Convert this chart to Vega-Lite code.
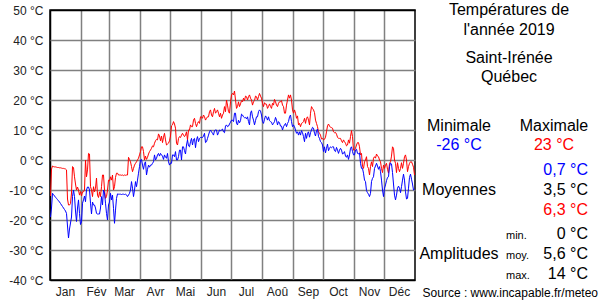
{
"$schema": "https://vega.github.io/schema/vega-lite/v6.json",
"width": 365, "height": 270,
"autosize": "none",
"padding": {"left": 50, "top": 10, "right": 185, "bottom": 20},
"background": "white",
"config": {"font": "Liberation Sans", "view": {"stroke": "#000000", "strokeWidth": 1.5}},
"layer": [
{
"data": {"values": [
{"jour":1,"tmin":-19,"tmax":-12},{"jour":2,"tmin":-16,"tmax":-3},{"jour":3,"tmin":-11.1,"tmax":-2},{"jour":4,"tmin":-11.5,"tmax":-2.2},{"jour":5,"tmin":-12,"tmax":-2.3},{"jour":6,"tmin":-12.4,"tmax":-2.3},{"jour":7,"tmin":-12.8,"tmax":-2.4},{"jour":8,"tmin":-13.2,"tmax":-2.5},{"jour":9,"tmin":-13.6,"tmax":-2.5},{"jour":10,"tmin":-14,"tmax":-2.6},
{"jour":11,"tmin":-14.5,"tmax":-2.6},{"jour":12,"tmin":-15,"tmax":-2.7},{"jour":13,"tmin":-15.5,"tmax":-2.8},{"jour":14,"tmin":-16,"tmax":-2.8},{"jour":15,"tmin":-16.5,"tmax":-2.9},{"jour":16,"tmin":-17,"tmax":-3},{"jour":17,"tmin":-17.8,"tmax":-3.3},{"jour":18,"tmin":-22,"tmax":-13},{"jour":19,"tmin":-26,"tmax":-15},{"jour":20,"tmin":-23,"tmax":-15},
{"jour":21,"tmin":-21,"tmax":-14.5},{"jour":22,"tmin":-19,"tmax":-11},{"jour":23,"tmin":-12.2,"tmax":-2.2},{"jour":24,"tmin":-10,"tmax":-2.5},{"jour":25,"tmin":-12.2,"tmax":-5.6},{"jour":26,"tmin":-17,"tmax":-8},{"jour":27,"tmin":-20.5,"tmax":-10},{"jour":28,"tmin":-16,"tmax":-9},{"jour":29,"tmin":-13.3,"tmax":-10},{"jour":30,"tmin":-17.8,"tmax":-11.7},
{"jour":31,"tmin":-21.5,"tmax":-10.5},{"jour":32,"tmin":-20.6,"tmax":-12},{"jour":33,"tmin":-14.4,"tmax":-10.6},{"jour":34,"tmin":-13.3,"tmax":-10.6},{"jour":35,"tmin":-12,"tmax":-10},{"jour":36,"tmin":-13.9,"tmax":0},{"jour":37,"tmin":-10,"tmax":-5.6},{"jour":38,"tmin":-9,"tmax":-3.3},{"jour":39,"tmin":-9,"tmax":2.2},{"jour":40,"tmin":-10,"tmax":2},
{"jour":41,"tmin":-14.4,"tmax":-8.9},{"jour":42,"tmin":-18,"tmax":-10},{"jour":43,"tmin":-14,"tmax":-12.2},{"jour":44,"tmin":-15,"tmax":-8.9},{"jour":45,"tmin":-15,"tmax":-10.6},{"jour":46,"tmin":-16,"tmax":-9.4},{"jour":47,"tmin":-17.8,"tmax":-6},{"jour":48,"tmin":-18,"tmax":-11.7},{"jour":49,"tmin":-18,"tmax":-12.5},{"jour":50,"tmin":-18,"tmax":-10.6},
{"jour":51,"tmin":-16,"tmax":-12.2},{"jour":52,"tmin":-12.2,"tmax":-8.9},{"jour":53,"tmin":-15,"tmax":-5},{"jour":54,"tmin":-10,"tmax":-5},{"jour":55,"tmin":-11,"tmax":-10},{"jour":56,"tmin":-14.4,"tmax":-12.8},{"jour":57,"tmin":-17.8,"tmax":-12.2},{"jour":58,"tmin":-20,"tmax":-10},{"jour":59,"tmin":-15,"tmax":-6.7},{"jour":60,"tmin":-14,"tmax":-7},
{"jour":61,"tmin":-11.1,"tmax":-5.6},{"jour":62,"tmin":-13.3,"tmax":-6.7},{"jour":63,"tmin":-11.7,"tmax":-5},{"jour":64,"tmin":-16.1,"tmax":-10},{"jour":65,"tmin":-21.1,"tmax":-8.9},{"jour":66,"tmin":-16.7,"tmax":-5.8},{"jour":67,"tmin":-12.8,"tmax":-4.4},{"jour":68,"tmin":-11.3,"tmax":-4.4},{"jour":69,"tmin":-11.4,"tmax":-5},{"jour":70,"tmin":-11.4,"tmax":-5},
{"jour":71,"tmin":-11.4,"tmax":-5},{"jour":72,"tmin":-11.5,"tmax":-5.1},{"jour":73,"tmin":-11.4,"tmax":-5},{"jour":74,"tmin":-11.4,"tmax":-5.2},{"jour":75,"tmin":-11.5,"tmax":-5},{"jour":76,"tmin":-11.4,"tmax":-5.1},{"jour":77,"tmin":-11.6,"tmax":-5},{"jour":78,"tmin":-12.2,"tmax":-5},{"jour":79,"tmin":-11.7,"tmax":0.9},{"jour":80,"tmin":-11.1,"tmax":0.2},
{"jour":81,"tmin":-10,"tmax":-0.6},{"jour":82,"tmin":-7.2,"tmax":-2.2},{"jour":83,"tmin":-9.4,"tmax":-3.9},{"jour":84,"tmin":-12.2,"tmax":-2.8},{"jour":85,"tmin":-10,"tmax":-1.7},{"jour":86,"tmin":-7.2,"tmax":-1.1},{"jour":87,"tmin":-8.9,"tmax":-0.6},{"jour":88,"tmin":-6.7,"tmax":0},{"jour":89,"tmin":-4.4,"tmax":0.6},{"jour":90,"tmin":-2.2,"tmax":1.7},
{"jour":91,"tmin":0,"tmax":2.8},{"jour":92,"tmin":0.2,"tmax":4.4},{"jour":93,"tmin":-1.7,"tmax":4.4},{"jour":94,"tmin":-3.1,"tmax":2.8},{"jour":95,"tmin":-1.1,"tmax":0},{"jour":96,"tmin":-0.6,"tmax":1.3},{"jour":97,"tmin":-5,"tmax":0.2},{"jour":98,"tmin":-3.1,"tmax":0.9},{"jour":99,"tmin":-1.7,"tmax":2},{"jour":100,"tmin":-2.4,"tmax":2.8},
{"jour":101,"tmin":-1.7,"tmax":3.3},{"jour":102,"tmin":-1.7,"tmax":3.9},{"jour":103,"tmin":-1.1,"tmax":4.7},{"jour":104,"tmin":-0.6,"tmax":4.4},{"jour":105,"tmin":1.7,"tmax":5.6},{"jour":106,"tmin":0,"tmax":6.4},{"jour":107,"tmin":0.6,"tmax":6.9},{"jour":108,"tmin":1.7,"tmax":6.7},{"jour":109,"tmin":2.2,"tmax":8.7},{"jour":110,"tmin":1.3,"tmax":8},
{"jour":111,"tmin":2.2,"tmax":6.4},{"jour":112,"tmin":1.7,"tmax":8},{"jour":113,"tmin":1.3,"tmax":5.8},{"jour":114,"tmin":0.2,"tmax":7.6},{"jour":115,"tmin":1.7,"tmax":8.9},{"jour":116,"tmin":0.9,"tmax":6.7},{"jour":117,"tmin":0.6,"tmax":5},{"jour":118,"tmin":2.2,"tmax":5.3},{"jour":119,"tmin":-0.6,"tmax":5.6},{"jour":120,"tmin":-1.7,"tmax":6.4},
{"jour":121,"tmin":-1,"tmax":8},{"jour":122,"tmin":-1.1,"tmax":11.4},{"jour":123,"tmin":1.7,"tmax":11.7},{"jour":124,"tmin":1.7,"tmax":12.8},{"jour":125,"tmin":1.1,"tmax":12},{"jour":126,"tmin":2.8,"tmax":10.6},{"jour":127,"tmin":0,"tmax":5.6},{"jour":128,"tmin":0,"tmax":5},{"jour":129,"tmin":1.1,"tmax":7.2},{"jour":130,"tmin":3.3,"tmax":7.8},
{"jour":131,"tmin":3.3,"tmax":7.5},{"jour":132,"tmin":0,"tmax":8.3},{"jour":133,"tmin":4.4,"tmax":8.9},{"jour":134,"tmin":4.4,"tmax":8.3},{"jour":135,"tmin":3.1,"tmax":7.8},{"jour":136,"tmin":2,"tmax":8.3},{"jour":137,"tmin":5,"tmax":9.4},{"jour":138,"tmin":6.7,"tmax":6.7},{"jour":139,"tmin":4.7,"tmax":10},{"jour":140,"tmin":4.4,"tmax":10},
{"jour":141,"tmin":6.1,"tmax":11.7},{"jour":142,"tmin":7.2,"tmax":11.1},{"jour":143,"tmin":5,"tmax":11.1},{"jour":144,"tmin":6.9,"tmax":13.3},{"jour":145,"tmin":7.2,"tmax":13.9},{"jour":146,"tmin":4.1,"tmax":12.2},{"jour":147,"tmin":6.7,"tmax":11.1},{"jour":148,"tmin":7.8,"tmax":12.2},{"jour":149,"tmin":6.1,"tmax":12.8},{"jour":150,"tmin":7.2,"tmax":12.2},
{"jour":151,"tmin":7.5,"tmax":14.4},{"jour":152,"tmin":7.5,"tmax":14.4},{"jour":153,"tmin":7.5,"tmax":13.9},{"jour":154,"tmin":8,"tmax":15},{"jour":155,"tmin":8.9,"tmax":14.4},{"jour":156,"tmin":5.8,"tmax":13.3},{"jour":157,"tmin":6.1,"tmax":13.9},{"jour":158,"tmin":7.2,"tmax":14.4},{"jour":159,"tmin":8.3,"tmax":14.4},{"jour":160,"tmin":9.4,"tmax":16.1},
{"jour":161,"tmin":10,"tmax":16.7},{"jour":162,"tmin":9.4,"tmax":15},{"jour":163,"tmin":8.9,"tmax":14.4},{"jour":164,"tmin":8.3,"tmax":16.1},{"jour":165,"tmin":9.8,"tmax":17.2},{"jour":166,"tmin":10,"tmax":15.6},{"jour":167,"tmin":10,"tmax":16.1},{"jour":168,"tmin":8.3,"tmax":16.7},{"jour":169,"tmin":9.1,"tmax":15.6},{"jour":170,"tmin":10,"tmax":14.4},
{"jour":171,"tmin":9.8,"tmax":15.6},{"jour":172,"tmin":10,"tmax":13.9},{"jour":173,"tmin":10.3,"tmax":15},{"jour":174,"tmin":9.4,"tmax":15.6},{"jour":175,"tmin":9.1,"tmax":17.8},{"jour":176,"tmin":11.3,"tmax":16.1},{"jour":177,"tmin":11.7,"tmax":20},{"jour":178,"tmin":11.1,"tmax":18.3},{"jour":179,"tmin":11.3,"tmax":16.1},{"jour":180,"tmin":12,"tmax":15.6},
{"jour":181,"tmin":12.6,"tmax":19.4},{"jour":182,"tmin":13.3,"tmax":21.7},{"jour":183,"tmin":13.3,"tmax":22.2},{"jour":184,"tmin":12.8,"tmax":21.7},{"jour":185,"tmin":15.6,"tmax":23},{"jour":186,"tmin":15.6,"tmax":20},{"jour":187,"tmin":12.2,"tmax":17.2},{"jour":188,"tmin":11.7,"tmax":17.8},{"jour":189,"tmin":13.3,"tmax":19.4},{"jour":190,"tmin":12.4,"tmax":17.8},
{"jour":191,"tmin":13.1,"tmax":18.7},{"jour":192,"tmin":15.3,"tmax":19.8},{"jour":193,"tmin":15,"tmax":19.4},{"jour":194,"tmin":14.4,"tmax":20.6},{"jour":195,"tmin":14.1,"tmax":19.8},{"jour":196,"tmin":14.2,"tmax":21.3},{"jour":197,"tmin":13.7,"tmax":21.1},{"jour":198,"tmin":14.4,"tmax":20},{"jour":199,"tmin":12.8,"tmax":21.1},{"jour":200,"tmin":11.7,"tmax":21.7},
{"jour":201,"tmin":15.6,"tmax":20.6},{"jour":202,"tmin":16.4,"tmax":20},{"jour":203,"tmin":14.4,"tmax":18.3},{"jour":204,"tmin":13.3,"tmax":19.4},{"jour":205,"tmin":11.7,"tmax":19.8},{"jour":206,"tmin":13.1,"tmax":21.3},{"jour":207,"tmin":14.4,"tmax":21.1},{"jour":208,"tmin":14.4,"tmax":20},{"jour":209,"tmin":16.1,"tmax":21.1},{"jour":210,"tmin":16.7,"tmax":22.2},
{"jour":211,"tmin":16.3,"tmax":21.3},{"jour":212,"tmin":15,"tmax":20.6},{"jour":213,"tmin":12.8,"tmax":18.9},{"jour":214,"tmin":12.2,"tmax":17.8},{"jour":215,"tmin":13.6,"tmax":19.1},{"jour":216,"tmin":14.7,"tmax":18.6},{"jour":217,"tmin":14.2,"tmax":18.6},{"jour":218,"tmin":13.3,"tmax":17.2},{"jour":219,"tmin":14.4,"tmax":17.8},{"jour":220,"tmin":13.1,"tmax":18.7},
{"jour":221,"tmin":12.8,"tmax":17.8},{"jour":222,"tmin":12.6,"tmax":17.2},{"jour":223,"tmin":11.7,"tmax":18.9},{"jour":224,"tmin":12.2,"tmax":18.3},{"jour":225,"tmin":12.8,"tmax":20.2},{"jour":226,"tmin":14.2,"tmax":19.4},{"jour":227,"tmin":13.3,"tmax":18.3},{"jour":228,"tmin":11.7,"tmax":17.8},{"jour":229,"tmin":12.8,"tmax":18.9},{"jour":230,"tmin":12.4,"tmax":19.4},
{"jour":231,"tmin":11.3,"tmax":19.4},{"jour":232,"tmin":11.3,"tmax":19.8},{"jour":233,"tmin":10,"tmax":18.3},{"jour":234,"tmin":11.1,"tmax":17.8},{"jour":235,"tmin":11.7,"tmax":15.6},{"jour":236,"tmin":12.2,"tmax":15.6},{"jour":237,"tmin":11.1,"tmax":18.3},{"jour":238,"tmin":12.2,"tmax":20},{"jour":239,"tmin":12.8,"tmax":21.7},{"jour":240,"tmin":14.4,"tmax":20.6},
{"jour":241,"tmin":15,"tmax":21.7},{"jour":242,"tmin":12.8,"tmax":20},{"jour":243,"tmin":11.1,"tmax":16.7},{"jour":244,"tmin":11.7,"tmax":15.6},{"jour":245,"tmin":11.1,"tmax":16.7},{"jour":246,"tmin":10,"tmax":15.6},{"jour":247,"tmin":8.9,"tmax":13.9},{"jour":248,"tmin":9.4,"tmax":14.7},{"jour":249,"tmin":8.3,"tmax":11.7},{"jour":250,"tmin":9.4,"tmax":12.2},
{"jour":251,"tmin":8.3,"tmax":11.1},{"jour":252,"tmin":9.8,"tmax":12.2},{"jour":253,"tmin":9.1,"tmax":12.4},{"jour":254,"tmin":7.8,"tmax":12.8},{"jour":255,"tmin":6.1,"tmax":13.9},{"jour":256,"tmin":8.9,"tmax":12.2},{"jour":257,"tmin":7.2,"tmax":13.9},{"jour":258,"tmin":8.9,"tmax":14.4},{"jour":259,"tmin":9.4,"tmax":13.3},{"jour":260,"tmin":7.6,"tmax":11.7},
{"jour":261,"tmin":9.1,"tmax":15.6},{"jour":262,"tmin":10,"tmax":17.8},{"jour":263,"tmin":10.9,"tmax":17.2},{"jour":264,"tmin":10.6,"tmax":16.7},{"jour":265,"tmin":8.9,"tmax":15.8},{"jour":266,"tmin":8,"tmax":13.3},{"jour":267,"tmin":9.8,"tmax":12.2},{"jour":268,"tmin":10.3,"tmax":11.1},{"jour":269,"tmin":7.8,"tmax":9.4},{"jour":270,"tmin":7.2,"tmax":8.9},
{"jour":271,"tmin":6.1,"tmax":8.3},{"jour":272,"tmin":5.8,"tmax":7},{"jour":273,"tmin":5,"tmax":7.2},{"jour":274,"tmin":2.8,"tmax":6.7},{"jour":275,"tmin":4.4,"tmax":6.9},{"jour":276,"tmin":2.4,"tmax":7.6},{"jour":277,"tmin":3.9,"tmax":9.4},{"jour":278,"tmin":5.3,"tmax":11.4},{"jour":279,"tmin":3.1,"tmax":12},{"jour":280,"tmin":3.9,"tmax":11.3},
{"jour":281,"tmin":4.4,"tmax":10.9},{"jour":282,"tmin":4.1,"tmax":10.8},{"jour":283,"tmin":4.4,"tmax":10.6},{"jour":284,"tmin":4.4,"tmax":9.4},{"jour":285,"tmin":3.1,"tmax":9.1},{"jour":286,"tmin":2.8,"tmax":9.2},{"jour":287,"tmin":4.2,"tmax":8.6},{"jour":288,"tmin":3.3,"tmax":7.6},{"jour":289,"tmin":2.2,"tmax":7.2},{"jour":290,"tmin":3.3,"tmax":7.2},
{"jour":291,"tmin":3.9,"tmax":7.2},{"jour":292,"tmin":3.3,"tmax":6.4},{"jour":293,"tmin":2,"tmax":5.8},{"jour":294,"tmin":2.2,"tmax":6.7},{"jour":295,"tmin":2.8,"tmax":6.1},{"jour":296,"tmin":1.3,"tmax":5.6},{"jour":297,"tmin":0.9,"tmax":4.7},{"jour":298,"tmin":1.7,"tmax":5},{"jour":299,"tmin":0.2,"tmax":6.7},{"jour":300,"tmin":1.7,"tmax":5.6},
{"jour":301,"tmin":3.9,"tmax":7.8},{"jour":302,"tmin":4.4,"tmax":9.8},{"jour":303,"tmin":2.8,"tmax":7.8},{"jour":304,"tmin":1.7,"tmax":3.3},{"jour":305,"tmin":1.7,"tmax":3.3},{"jour":306,"tmin":3.3,"tmax":3.9},{"jour":307,"tmin":3.6,"tmax":5},{"jour":308,"tmin":2.2,"tmax":5.8},{"jour":309,"tmin":2,"tmax":5.8},{"jour":310,"tmin":2.4,"tmax":4.4},
{"jour":311,"tmin":-1.1,"tmax":1.7},{"jour":312,"tmin":-2.8,"tmax":2.2},{"jour":313,"tmin":-2.8,"tmax":-2.2},{"jour":314,"tmin":-4.4,"tmax":-2.8},{"jour":315,"tmin":-6.7,"tmax":-0.6},{"jour":316,"tmin":-7.2,"tmax":0},{"jour":317,"tmin":-10.2,"tmax":1.1},{"jour":318,"tmin":-10.9,"tmax":-2.2},{"jour":319,"tmin":-11.4,"tmax":-2.8},{"jour":320,"tmin":-12.2,"tmax":-5},
{"jour":321,"tmin":-11.1,"tmax":-2.2},{"jour":322,"tmin":-7.2,"tmax":-0.6},{"jour":323,"tmin":-6.1,"tmax":-2.2},{"jour":324,"tmin":-5.6,"tmax":0.6},{"jour":325,"tmin":-2.8,"tmax":1.1},{"jour":326,"tmin":-2,"tmax":0.6},{"jour":327,"tmin":-1.1,"tmax":2},{"jour":328,"tmin":-2,"tmax":1.3},{"jour":329,"tmin":-3.1,"tmax":1.1},{"jour":330,"tmin":-2.2,"tmax":0},
{"jour":331,"tmin":-3.9,"tmax":-0.6},{"jour":332,"tmin":-6.7,"tmax":-2.8},{"jour":333,"tmin":-10,"tmax":-4.2},{"jour":334,"tmin":-12.2,"tmax":-1.7},{"jour":335,"tmin":-9.4,"tmax":-2.8},{"jour":336,"tmin":-8.3,"tmax":-1.7},{"jour":337,"tmin":-6.9,"tmax":-1.1},{"jour":338,"tmin":-5.8,"tmax":-3.1},{"jour":339,"tmin":-5.6,"tmax":-4.4},{"jour":340,"tmin":-2.2,"tmax":-1.1},
{"jour":341,"tmin":-1,"tmax":-0.6},{"jour":342,"tmin":-1.3,"tmax":1.3},{"jour":343,"tmin":-4.2,"tmax":4.4},{"jour":344,"tmin":-8,"tmax":3.9},{"jour":345,"tmin":-11.7,"tmax":0},{"jour":346,"tmin":-13.3,"tmax":-1.1},{"jour":347,"tmin":-11.7,"tmax":-4.2},{"jour":348,"tmin":-9.4,"tmax":-0.9},{"jour":349,"tmin":-8.7,"tmax":-2.8},{"jour":350,"tmin":-9.4,"tmax":-3.9},
{"jour":351,"tmin":-10.9,"tmax":-2.8},{"jour":352,"tmin":-8.9,"tmax":-0.9},{"jour":353,"tmin":-6.7,"tmax":-2.8},{"jour":354,"tmin":-4.7,"tmax":-1.1},{"jour":355,"tmin":-6.7,"tmax":1.1},{"jour":356,"tmin":-10.6,"tmax":1.7},{"jour":357,"tmin":-13,"tmax":0},{"jour":358,"tmin":-12.8,"tmax":-3.9},{"jour":359,"tmin":-9.4,"tmax":-2.2},{"jour":360,"tmin":-5.8,"tmax":-1.1},
{"jour":361,"tmin":-4.7,"tmax":-0.6},{"jour":362,"tmin":-6.4,"tmax":-0.6},{"jour":363,"tmin":-8,"tmax":-1.4},{"jour":364,"tmin":-10,"tmax":-2.4},{"jour":365,"tmin":-9.8,"tmax":-5}
]},
"encoding": {
  "x": {"field": "jour", "type": "quantitative",
    "scale": {"domain": [0.5, 365.5], "nice": false, "zero": false},
    "axis": {"values": [0.5,31.5,59.5,90.5,120.5,151.5,181.5,212.5,243.5,273.5,304.5,334.5],
      "labelExpr": "['Jan','Fév','Mar','Avr','Mai','Jun','Jul','Aoû','Sep','Oct','Nov','Déc'][indexof([0.5,31.5,59.5,90.5,120.5,151.5,181.5,212.5,243.5,273.5,304.5,334.5], datum.value)]",
      "labelOffset": 15, "labelFlush": false, "labelOverlap": false, "labelAlign": "center",
      "ticks": false, "domain": false, "title": null,
      "grid": true, "gridColor": {"condition": {"test": "datum.value == 0.5", "value": "#000000"}, "value": "#808080"}, "gridWidth": 1.5,
      "labelFont": "Liberation Sans", "labelFontSize": 12, "labelColor": "#222222", "labelPadding": 6}}
},
"layer": [
  {"mark": {"type": "line", "color": "#ff0000", "strokeWidth": 1},
   "encoding": {"y": {"field": "tmax", "type": "quantitative",
     "scale": {"domain": [-40, 50], "nice": false, "zero": false},
     "axis": {"values": [-40,-30,-20,-10,0,10,20,30,40,50], "labelExpr": "datum.value + ' °C'",
       "ticks": false, "domain": false, "title": null, "labelFlush": false, "labelOverlap": false,
       "grid": true, "gridColor": {"condition": {"test": "datum.value == 50 || datum.value == -40", "value": "#000000"}, "value": "#808080"}, "gridWidth": 1.5,
       "labelFont": "Liberation Sans", "labelFontSize": 12, "labelColor": "#222222", "labelPadding": 7}}}},
  {"mark": {"type": "line", "color": "#0000ff", "strokeWidth": 1},
   "encoding": {"y": {"field": "tmin", "type": "quantitative",
     "scale": {"domain": [-40, 50], "nice": false, "zero": false},
     "axis": {"values": [-40,-30,-20,-10,0,10,20,30,40,50], "labelExpr": "datum.value + ' °C'",
       "ticks": false, "domain": false, "title": null, "labelFlush": false, "labelOverlap": false,
       "grid": true, "gridColor": {"condition": {"test": "datum.value == 50 || datum.value == -40", "value": "#000000"}, "value": "#808080"}, "gridWidth": 1.5,
       "labelFont": "Liberation Sans", "labelFontSize": 12, "labelColor": "#222222", "labelPadding": 7}}}}
]
},
{
"data": {"values": [
  {"txt": "Températures de", "col": 3, "ligne": 1, "bloc": "centre", "serie": "autre"},
  {"txt": "l'année 2019", "col": 3, "ligne": 2, "bloc": "centre", "serie": "autre"},
  {"txt": "Saint-Irénée", "col": 3, "ligne": 3, "bloc": "centre", "serie": "autre"},
  {"txt": "Québec", "col": 3, "ligne": 4, "bloc": "centre", "serie": "autre"},
  {"txt": "Minimale", "col": 1, "ligne": 5, "bloc": "centre", "serie": "autre"},
  {"txt": "Maximale", "col": 4, "ligne": 5, "bloc": "centre", "serie": "autre"},
  {"txt": "-26 °C", "col": 1, "ligne": 6, "bloc": "centre", "serie": "min"},
  {"txt": "23 °C", "col": 4, "ligne": 6, "bloc": "centre", "serie": "max"},
  {"txt": "Moyennes", "col": 1, "ligne": 8, "bloc": "centre", "serie": "autre"},
  {"txt": "Amplitudes", "col": 1, "ligne": 11, "bloc": "centre", "serie": "autre"},
  {"txt": "0,7 °C", "col": 5, "ligne": 7, "bloc": "droite", "serie": "min"},
  {"txt": "3,5 °C", "col": 5, "ligne": 8, "bloc": "droite", "serie": "autre"},
  {"txt": "6,3 °C", "col": 5, "ligne": 9, "bloc": "droite", "serie": "max"},
  {"txt": "0 °C", "col": 5, "ligne": 10, "bloc": "droite", "serie": "autre"},
  {"txt": "5,6 °C", "col": 5, "ligne": 11, "bloc": "droite", "serie": "autre"},
  {"txt": "14 °C", "col": 5, "ligne": 12, "bloc": "droite", "serie": "autre"},
  {"txt": "min.", "col": 2, "ligne": 10, "bloc": "petit", "serie": "autre"},
  {"txt": "moy.", "col": 2, "ligne": 11, "bloc": "petit", "serie": "autre"},
  {"txt": "max.", "col": 2, "ligne": 12, "bloc": "petit", "serie": "autre"},
  {"txt": "Source : www.incapable.fr/meteo", "col": 6, "ligne": 13, "bloc": "source", "serie": "autre"}
]},
"encoding": {
  "x": {"field": "col", "type": "quantitative", "axis": null,
    "scale": {"domain": [1,2,3,4,5,6], "range": [409,456,459,504,538,548], "nice": false, "zero": false}},
  "y": {"field": "ligne", "type": "quantitative", "axis": null,
    "scale": {"domain": [1,2,3,4,5,6,7,8,9,10,11,12,13], "range": [5,24.5,52.5,71.5,121,140,164.5,184.5,204.5,229,249,269,287], "nice": false, "zero": false}},
  "text": {"field": "txt", "type": "nominal"},
  "color": {"field": "serie", "type": "nominal", "legend": null,
    "scale": {"domain": ["min","max","autre"], "range": ["#0000ff","#ff0000","#000000"]}}
},
"layer": [
  {"transform": [{"filter": "datum.bloc == 'centre'"}],
   "mark": {"type": "text", "align": "center", "baseline": "alphabetic", "font": "Liberation Sans", "fontSize": 16}},
  {"transform": [{"filter": "datum.bloc == 'droite'"}],
   "mark": {"type": "text", "align": "right", "baseline": "alphabetic", "font": "Liberation Sans", "fontSize": 16}},
  {"transform": [{"filter": "datum.bloc == 'petit'"}],
   "mark": {"type": "text", "align": "left", "baseline": "alphabetic", "font": "Liberation Sans", "fontSize": 11}},
  {"transform": [{"filter": "datum.bloc == 'source'"}],
   "mark": {"type": "text", "align": "right", "baseline": "alphabetic", "font": "Liberation Sans", "fontSize": 12}}
]
}
],
"resolve": {"scale": {"x": "independent", "y": "independent"}}
}
